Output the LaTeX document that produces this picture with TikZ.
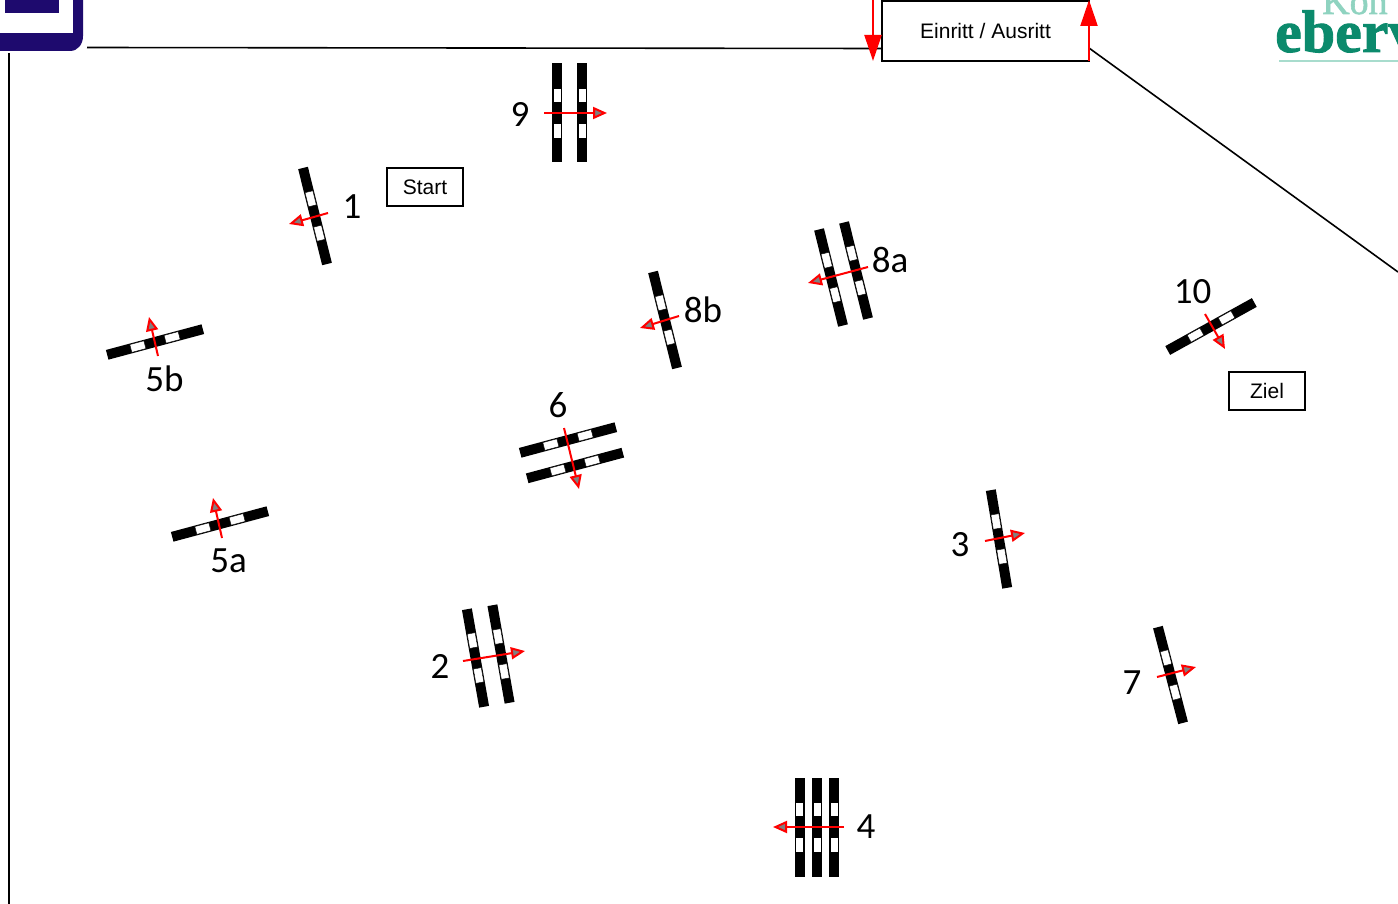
\documentclass[tikz,border=0pt]{standalone}
\usepackage{fontspec}
\setmainfont{Liberation Sans}
\newfontfamily\numfont{Carlito}
\newfontfamily\logofont[FakeBold=1.5]{Liberation Serif}
\usetikzlibrary{arrows.meta}
\definecolor{logoblue}{HTML}{1E0A6E}
\definecolor{logogreen}{HTML}{0B8A6C}
\definecolor{logopale}{HTML}{8FD3C0}
\definecolor{logoline}{HTML}{A8DCCD}
\tikzset{
  barwhite/.style={fill=white,draw=black,line width=0.4pt},
  dirarrow/.style={draw=red,line width=2pt,-{Triangle[length=14pt,width=12pt,fill=gray,line width=2pt]}},
  lineconn/.style={draw=black,line width=1.6pt},
  bigred/.style={draw=red,line width=2.2pt,-{Triangle[length=26pt,width=17pt,fill=red]}},
  textbox/.style={draw=black,line width=1.6pt,fill=white,inner sep=0pt,font=\fontsize{21}{21}\selectfont},
  numlabel/.style={inner sep=0pt,font=\numfont\fontsize{37}{37}\selectfont,text=black}
}
\newcommand{\gatebar}[3]{%
  \begin{scope}[shift={(#1,#2)},rotate=#3]
    \fill[black] (-5,-49.5) rectangle (5,49.5);
    \draw[barwhite] (-4,-25) rectangle (4,-10.5);
    \draw[barwhite] (-4,10.5) rectangle (4,25);
  \end{scope}}
\begin{document}
\begin{tikzpicture}[x=1pt,y=-1pt]
\useasboundingbox (0,0) rectangle (1398,904);
\clip (0,0) rectangle (1398,904);
\fill[white] (0,0) rectangle (1398,904);
% logo, left
\fill[logoblue] (-5,-5) -- (83,-5) -- (83,36) .. controls (83,44) and (78,51) .. (70,51) -- (-5,51) -- cycle;
\fill[white] (-5,-5) -- (73,-5) -- (73,33) -- (-5,33) -- cycle;
\fill[logoblue] (5,-5) rectangle (59,13);
% logo, right
\node[anchor=base west,inner sep=0pt,text=logopale,font=\logofont\fontsize{38}{38}\selectfont] (kom) at (1322,14) {Kon};
\node[anchor=base west,inner sep=0pt,text=logogreen,font=\logofont\bfseries\fontsize{60}{60}\selectfont] (eber) at (1275,52) {eberv};
\fill[logoline] (1279,60.5) rectangle (1398,62);
% frame lines
\coordinate (leftTop) at (9,53);
\coordinate (leftBot) at (9,904);
\coordinate (topL) at (87,47.5);
\coordinate (rightEnd) at (1398,272);
\draw[lineconn] (leftTop) -- (leftBot);
\node[textbox,minimum width=207pt,minimum height=60pt] (entry) at (985.5,31) {\raisebox{1pt}{Einritt / Ausritt}};
\draw[lineconn] (topL) -- (entry.west |- 0,48.5);
\draw[lineconn] (1089,48) -- (rightEnd);
\coordinate (inTop) at (873,0);
\coordinate (inEnd) at (873,61);
\coordinate (outBot) at (1089,61);
\coordinate (outEnd) at (1089,0);
\draw[bigred] (inTop) -- (inEnd);
\draw[bigred] (outBot) -- (outEnd);
\node[textbox,minimum width=76pt,minimum height=38pt] (start) at (425,187) {Start};
\node[textbox,minimum width=76pt,minimum height=38pt] (ziel) at (1267,391) {Ziel};
% gates
\gatebar{315}{216}{14}
\gatebar{155}{342}{-75}
\gatebar{220}{524}{-75}
\gatebar{665}{320}{14}
\gatebar{831}{277.5}{14}
\gatebar{856}{270.5}{14}
\gatebar{557}{113}{0}
\gatebar{582}{113}{0}
\gatebar{568}{440}{-75}
\gatebar{575}{465.5}{-75}
\gatebar{475.5}{658}{10}
\gatebar{501}{654}{10}
\gatebar{999}{539}{9.5}
\gatebar{1170.5}{675}{14.7}
\gatebar{799.5}{827}{0}
\gatebar{817}{827}{0}
\gatebar{834}{827}{0}
\gatebar{1211}{326.5}{-61}
% direction arrows
\draw[dirarrow] (544,113) -- (607,113);
\draw[dirarrow] (328,213) -- (289,224);
\draw[dirarrow] (158,356) -- (149,317);
\draw[dirarrow] (222,538) -- (213,498);
\draw[dirarrow] (679,316) -- (640,328);
\draw[dirarrow] (868,267) -- (808,283);
\draw[dirarrow] (564,428) -- (579,489);
\draw[dirarrow] (463,661) -- (525,651);
\draw[dirarrow] (985,541) -- (1025,533);
\draw[dirarrow] (1157,677) -- (1196,667);
\draw[dirarrow] (844,827) -- (773,827);
\draw[dirarrow] (1205,314) -- (1225,349);
% labels
\node[numlabel] (l1) at (352,207) {1};
\node[numlabel] (l2) at (440,666) {2};
\node[numlabel] (l3) at (960,545) {3};
\node[numlabel] (l4) at (866,827) {4};
\node[numlabel] (l5a) at (228.5,561) {5a};
\node[numlabel] (l5b) at (164.5,379) {5b};
\node[numlabel] (l6) at (558,405) {6};
\node[numlabel] (l7) at (1132,683) {7};
\node[numlabel] (l8a) at (890,260) {8a};
\node[numlabel] (l8b) at (703,310) {8b};
\node[numlabel] (l9) at (520,114) {9};
\node[numlabel] (l10) at (1192.5,292) {10};
\end{tikzpicture}
\end{document}
